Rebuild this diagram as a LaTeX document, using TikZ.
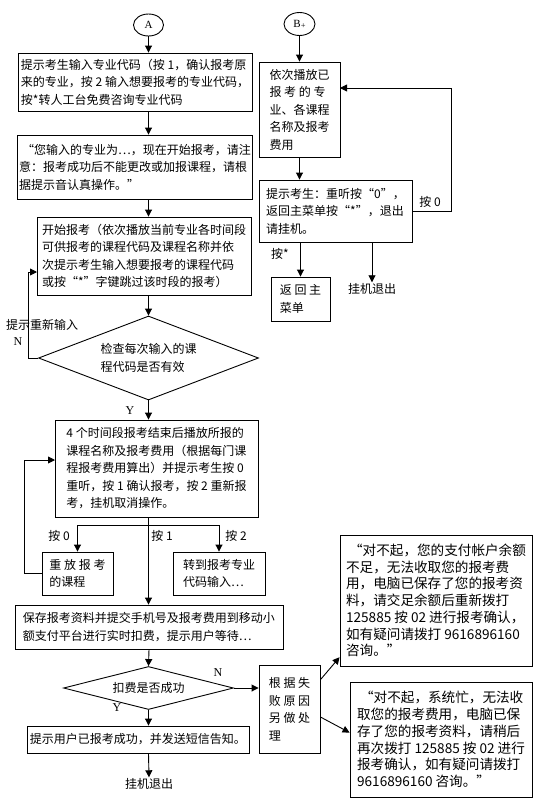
\documentclass[tikz,border=0pt]{standalone}
\usepackage{fontspec}
\usepackage{tikz}
\usetikzlibrary{shapes.geometric,arrows.meta,calc}
\setmainfont{Noto Sans CJK SC}
\newfontfamily\latinfont{Liberation Serif}
\newcommand{\boxfont}{\fontsize{12}{17.5}\selectfont}
\newcommand{\msgfont}{\fontsize{13.6}{16.7}\selectfont}

\begin{document}
\begin{tikzpicture}[
        x=1pt, y=-1pt,
        stepbox/.style={rectangle, draw, line width=0.9pt, align=left, inner sep=0pt, font=\boxfont},
        msgbox/.style={stepbox, font=\msgfont},
        decide/.style={diamond, draw, line width=0.9pt, align=left, inner sep=0pt, font=\boxfont},
        term/.style={ellipse, draw, line width=0.9pt, inner sep=0pt, font=\latinfont\fontsize{11}{12}\selectfont},
        lbl/.style={inner sep=1pt, font=\boxfont},
        arr/.style={-{Triangle[length=7pt,width=7pt]}, line width=0.9pt}
      ]
        \useasboundingbox (0,0) rectangle (540,801);

        % left column
        \node[term, minimum width=30, minimum height=22] (startA) at (148.5,25) {A};
        \node[stepbox, minimum width=234, minimum height=58] (askmajor) at (135,82) {提示考生输入专业代码（按 1，确认报考原\\来的专业，按 2 输入想要报考的专业代码，\\按*转人工台免费咨询专业代码};
        \node[stepbox, minimum width=235, minimum height=64] (confirm) at (135,167) {\hspace{3pt}“您输入的专业为…，现在开始报考，请注\\意：报考成功后不能更改或加报课程，请根\\据提示音认真操作。”};
        \node[stepbox, minimum width=214, minimum height=78] (startreg) at (144,256) {开始报考（依次播放当前专业各时间段\\可供报考的课程代码及课程名称并依\\次提示考生输入想要报考的课程代码\\或按“*”字键跳过该时段的报考）};
        \node[decide, minimum width=220, minimum height=84, aspect=2.6] (checkcode) at (148.5,358) {检查每次输入的课\\程代码是否有效};
        \node[stepbox, minimum width=203, minimum height=97] (summary) at (156.5,468.5) {4 个时间段报考结束后播放所报的\\课程名称及报考费用（根据每门课\\程报考费用算出）并提示考生按 0\\重听，按 1 确认报考，按 2 重新报\\考，挂机取消操作。};
        \node[stepbox, minimum width=71, minimum height=43] (replay) at (77.5,573.5) {重 放 报 考\\的课程};
        \node[stepbox, minimum width=92, minimum height=43] (gotomajor) at (219,573.5) {转到报考专业\\代码输入…};
        \node[stepbox, minimum width=268, minimum height=44] (savedata) at (149,627) {保存报考资料并提交手机号及报考费用到移动小\\额支付平台进行实时扣费，提示用户等待…};
        \node[decide, minimum width=170, minimum height=43, aspect=4] (paycheck) at (148.5,688) {扣费是否成功};
        \node[stepbox, minimum width=222, minimum height=27] (paid) at (138,739.5) {提示用户已报考成功，并发送短信告知。};
        \node[lbl] (hangup) at (149,784) {挂机退出};

        % failure branch
        \node[stepbox, minimum width=61, minimum height=88] (failcause) at (289.5,709) {根 据 失\\败 原 因\\另 做 处\\理};
        \node[msgbox, minimum width=192, minimum height=131] (nofunds) at (436,600.5) {\hspace{3pt}“对不起，您的支付帐户余额\\不足，无法收取您的报考费\\用，电脑已保存了您的报考资\\料，请交足余额后重新拨打\\125885 按 02 进行报考确认，\\如有疑问请拨打 9616896160\\咨询。”};
        \node[msgbox, minimum width=182, minimum height=115] (busy) at (441,739.5) {\hspace{3pt}“对不起，系统忙，无法收\\取您的报考费用，电脑已保\\存了您的报考资料，请稍后\\再次拨打 125885 按 02 进行\\报考确认，如有疑问请拨打\\9616896160 咨询。”};

        % right column
        \node[term, minimum width=31, minimum height=23] (startB) at (299.5,24) {B\raisebox{-1pt}{\fontsize{8.5}{8.5}\selectfont +}};
        \node[stepbox, minimum width=81, minimum height=95] (playback) at (299.5,109.5) {依次播放已\\报 考 的 专\\业、各课程\\名称及报考\\费用};
        \node[stepbox, minimum width=153, minimum height=62] (prompt) at (335.5,211) {提示考生：重听按“0”，\\返回主菜单按“*”，退出\\请挂机。};
        \node[stepbox, minimum width=59, minimum height=44] (backmenu) at (300.5,299) {返 回 主\\菜单};
        \node[lbl] (hangupB) at (372,289) {挂机退出};

        \coordinate (retry) at (37,272);
        \coordinate (again) at (55,460);
        \coordinate (fork) at (148.5,525);
        \coordinate (replayB) at (340,88);

        % connectors
        \draw[arr] (startA) -- (startA |- askmajor.north);
        \draw[arr] (startA |- askmajor.south) -- (startA |- confirm.north);
        \draw[arr] (startA |- confirm.south) -- (startA |- startreg.north);
        \draw[arr] (startA |- startreg.south) -- (checkcode.north);
        \draw[arr] (checkcode.west) -- ++(-10,0) |- (retry);
        \draw[arr] (checkcode.south) -- (checkcode.south |- summary.north);
        \draw (startA |- summary.south) -- (fork);
        \draw[arr] (fork) -- (startA |- savedata.north);
        \draw[arr] (fork) -| (replay.north);
        \draw[arr] (fork) -| (gotomajor.north);
        \draw[arr] (replay.west) -- ++(-17,0) |- (again);
        \draw[arr] (savedata.south) -- (paycheck.north);
        \draw[arr] (paycheck.south) -- (paycheck.south |- paid.north);
        \draw[arr] (paycheck.south |- paid.south) -- (hangup.north);
        \draw[arr] (paycheck.east) -- (paycheck.east -| failcause.west);
        \draw[arr] ($(failcause.north east)!0.17!(failcause.south east)$) -- ($(nofunds.south west)!0.07!(nofunds.north west)$);
        \draw[arr] ($(failcause.north east)!0.59!(failcause.south east)$) -- ($(busy.north west)!0.44!(busy.south west)$);

        \draw[arr] (startB) -- (playback.north);
        \draw[arr] (playback.south) -- (playback.south |- prompt.north);
        \draw[arr] (prompt.east) -- ++(39,0) |- (replayB);
        \draw[arr] (backmenu.north |- prompt.south) -- (backmenu.north);
        \draw[arr] (hangupB |- prompt.south) -- (hangupB.north);

        % labels
        \node[lbl] (retrylbl) at (42,325) {提示重新输入};
        \node[lbl, font=\latinfont\fontsize{12}{12}\selectfont] (nlbl) at (18,342) {N};
        \node[lbl, font=\latinfont\fontsize{12}{12}\selectfont] (ylbl) at (130,411) {Y};
        \node[lbl] (key0) at (59,536) {按 0};
        \node[lbl] (key1) at (162,536) {按 1};
        \node[lbl] (key2) at (236,536) {按 2};
        \node[lbl, font=\latinfont\fontsize{12}{12}\selectfont] (nlbl2) at (218,673) {N};
        \node[lbl, font=\latinfont\fontsize{12}{12}\selectfont] (ylbl2) at (117,708) {Y};
        \node[lbl] (keyB0) at (430,202) {按 0};
        \node[lbl] (keystar) at (280,254) {按*};

      \end{tikzpicture}
\end{document}
